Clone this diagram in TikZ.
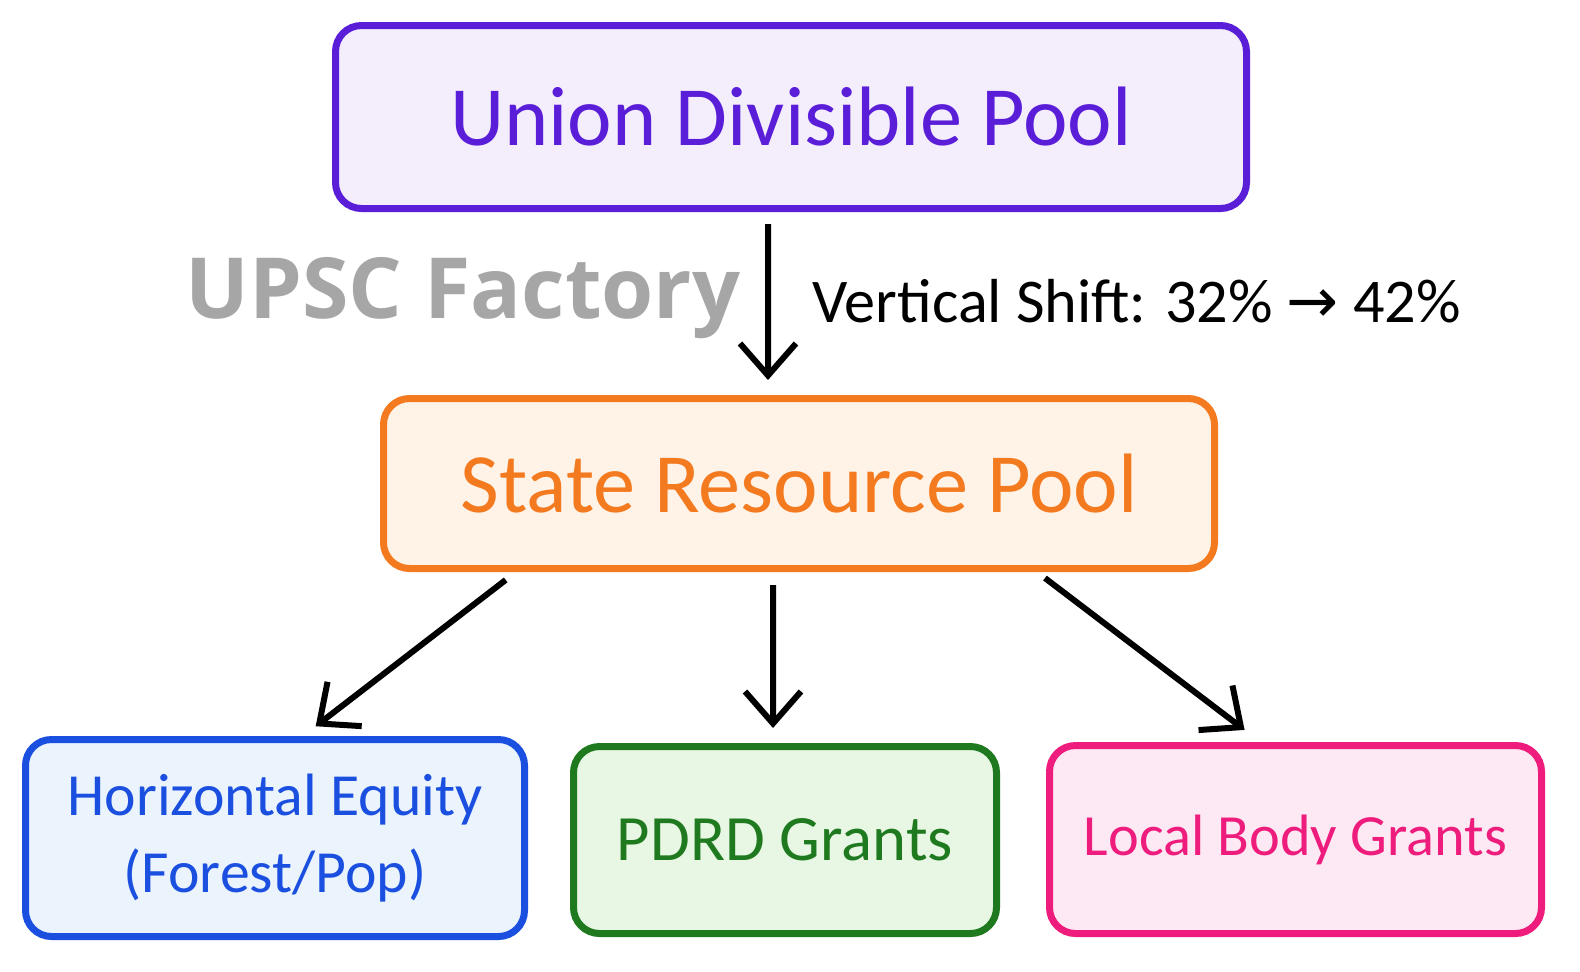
\documentclass[tikz,border=0pt]{standalone}
\usepackage{fontspec}
\setmainfont{Carlito}
\newfontfamily\stampfont{Open Sans}
\newfontfamily\symfont{DejaVu Sans}
\usetikzlibrary{arrows.meta,positioning,calc}
\definecolor{unionc}{HTML}{5B1ED8}
\definecolor{unionf}{HTML}{F3EDFC}
\definecolor{statec}{HTML}{F47A20}
\definecolor{statef}{HTML}{FFF3E8}
\definecolor{horizc}{HTML}{1A4FDF}
\definecolor{horizf}{HTML}{EBF3FD}
\definecolor{pdrdc}{HTML}{1F7A1F}
\definecolor{pdrdf}{HTML}{E8F7E4}
\definecolor{localc}{HTML}{EE1C7C}
\definecolor{localf}{HTML}{FDE9F3}
\tikzset{
  poolbox/.style={
    draw=#1c,
    fill=#1f,
    text=#1c,
    rounded corners=2.6mm,
    line width=0.7mm,
    align=center,
    inner sep=2pt
  },
  flow/.style={-{Straight Barb[length=3.2mm, width=5.6mm]}, line width=0.6mm, black},
  note/.style={font=\fontsize{17.7}{21}\selectfont, inner sep=0pt},
  stamp/.style={font=\stampfont\bfseries\fontsize{24}{28}\selectfont, text=black!35, inner sep=0pt}
}

\begin{document}
\begin{tikzpicture}[x=0.1mm, y=-0.1mm]

  \useasboundingbox[fill=white] (0,0) rectangle (1580,971);

  % pools
  \node[poolbox=union, minimum width=91.1mm, minimum height=18.3mm,
        font=\fontsize{24}{29}\selectfont] (union) at (791,117) {Union Divisible Pool};
  \node[poolbox=state, minimum width=83.1mm, minimum height=17mm,
        font=\fontsize{24}{29}\selectfont] (state) at (799,483.5) {State Resource Pool};

  % transfers out of the state pool
  \node[poolbox=horiz, minimum width=49.9mm, minimum height=19.7mm,
        font=\fontsize{17}{22}\selectfont] (horiz) at (275,838) {Horizontal Equity\\(Forest/Pop)};
  \node[poolbox=pdrd, minimum width=42.3mm, minimum height=18.7mm,
        font=\fontsize{18.4}{23}\selectfont] (pdrd) at (785,840) {PDRD Grants};
  \node[poolbox=local, minimum width=49.2mm, minimum height=18.8mm,
        font=\fontsize{16.6}{21}\selectfont] (local) at (1295.5,839.5) {Local Body Grants};

  \node[stamp, anchor=base west] (mark) at (185,318) {UPSC Factory};
  \node[note, anchor=base west] (shift) at (812,322) {Vertical Shift: 32\% {\symfont →} 42\%};

  \draw[flow, shorten <=1.2mm, shorten >=1.5mm]
    ([xshift=-2.3mm]union.south) -- ([xshift=-3.1mm]state.north);
  \draw[flow, shorten <=1.3mm, shorten >=1.6mm]
    ([xshift=-28.3mm]state.south) -- ([xshift=2.8mm]horiz.north);
  \draw[flow, shorten <=1.3mm, shorten >=1.5mm]
    ([xshift=-2.6mm]state.south) -- ([xshift=-1.2mm]pdrd.north);
  \draw[flow, shorten <=1.0mm, shorten >=2.0mm]
    ([xshift=23.8mm]state.south) -- ([xshift=-3.5mm]local.north);

\end{tikzpicture}
\end{document}
